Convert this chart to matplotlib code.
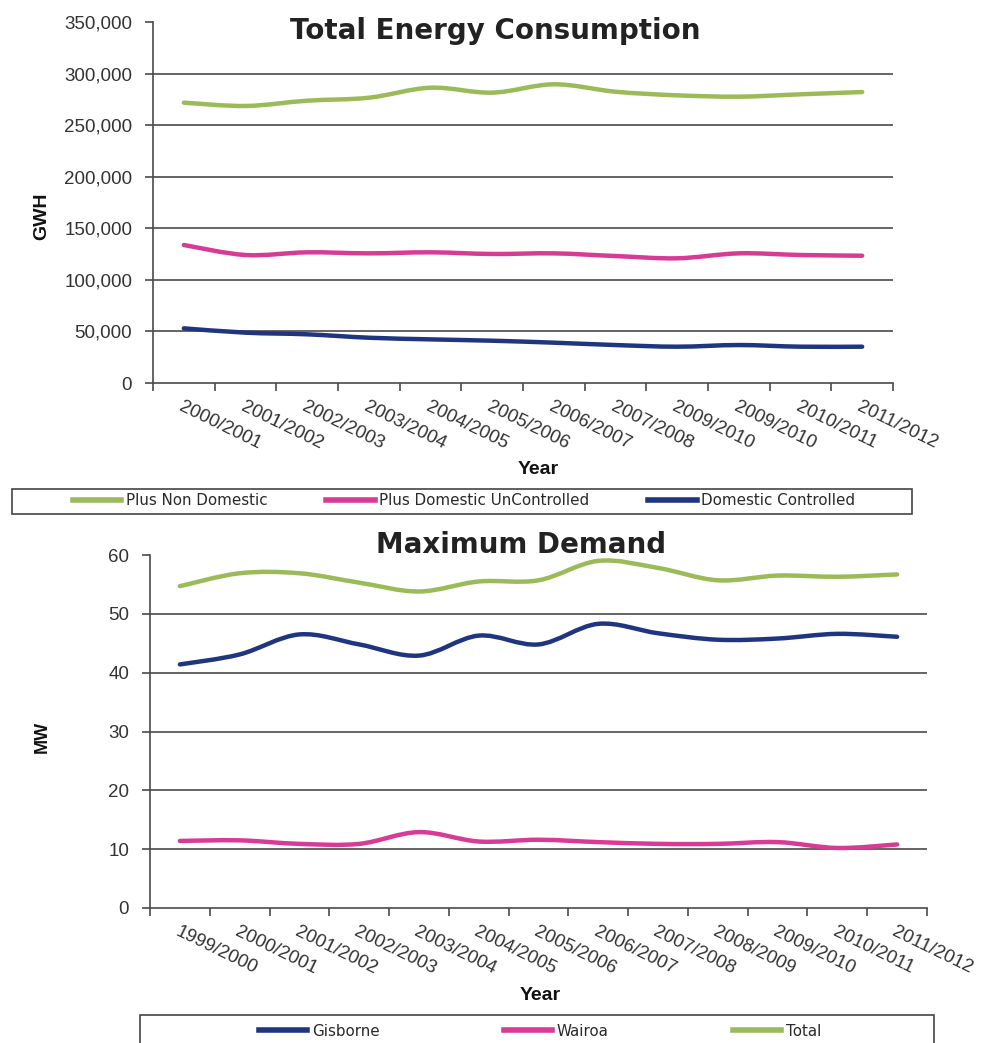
import numpy as np
import matplotlib
matplotlib.use('Agg')
import matplotlib.pyplot as plt
from matplotlib import ticker
from matplotlib.path import Path
from matplotlib.patches import PathPatch, Rectangle
from matplotlib.lines import Line2D

# ---- data ----
energy_years = ['2000/2001', '2001/2002', '2002/2003', '2003/2004', '2004/2005',
                '2005/2006', '2006/2007', '2007/2008', '2009/2010', '2009/2010',
                '2010/2011', '2011/2012']
non_domestic = [271800, 268600, 273700, 276600, 286300, 281500,
                289600, 282400, 278900, 277600, 279900, 282100]
dom_uncontrolled = [133800, 124100, 126700, 125700, 126700, 125100,
                    125700, 123100, 120900, 125700, 124100, 123400]
dom_controlled = [53000, 48800, 47200, 43900, 42300, 41000,
                  39100, 36800, 35200, 36800, 35200, 35200]
energy_ticks = [0, 50000, 100000, 150000, 200000, 250000, 300000, 350000]

demand_years = ['1999/2000', '2000/2001', '2001/2002', '2002/2003', '2003/2004',
                '2004/2005', '2005/2006', '2006/2007', '2007/2008', '2008/2009',
                '2009/2010', '2010/2011', '2011/2012']
gisborne = [41.4, 43.1, 46.5, 44.8, 42.9, 46.3, 44.8, 48.3, 46.7, 45.6, 45.8, 46.6, 46.1]
wairoa = [11.4, 11.5, 10.9, 10.9, 12.9, 11.3, 11.6, 11.2, 10.9, 10.9, 11.2, 10.2, 10.8]
total = [54.7, 56.9, 56.9, 55.3, 53.8, 55.5, 55.7, 59.0, 57.8, 55.7, 56.5, 56.3, 56.7]
demand_ticks = [0, 10, 20, 30, 40, 50, 60]

green = '#9bbb59'
pink = '#d93a95'
navy = '#1f3580'
grid_c = '#4a4a4a'
label_c = '#333333'

W, H = 983, 1043
fig = plt.figure(figsize=(W / 100, H / 100), dpi=100)
fig.patch.set_facecolor('white')


def smooth_line(ax, ys, color):
    # excel style smoothed line: bezier through the points
    pts = np.column_stack([np.arange(len(ys)), ys]).astype(float)
    n = len(pts)
    verts = [pts[0]]
    codes = [Path.MOVETO]
    for i in range(n - 1):
        p0 = pts[max(i - 1, 0)]
        p1, p2 = pts[i], pts[i + 1]
        p3 = pts[min(i + 2, n - 1)]
        verts += [p1 + (p2 - p0) / 6, p2 - (p3 - p1) / 6, p2]
        codes += [Path.CURVE4] * 3
    ax.add_patch(PathPatch(Path(verts, codes), fill=False, edgecolor=color,
                           lw=3.2, capstyle='round', joinstyle='round', zorder=3))


def style_axes(ax, cats, yticks, fmt):
    n = len(cats)
    ax.set_xlim(-0.5, n - 0.5)
    ax.set_ylim(yticks[0], yticks[-1])
    ax.set_yticks(yticks)
    ax.yaxis.set_major_formatter(ticker.FuncFormatter(fmt))
    ax.set_xticks(np.arange(n + 1) - 0.5)
    ax.set_xticklabels([])
    ax.set_xticks(np.arange(n), minor=True)
    ax.set_xticklabels(cats, minor=True, rotation=-26, ha='left', va='top',
                       rotation_mode='anchor', fontsize=13.5, color=label_c,
                       family='Liberation Sans')
    ax.tick_params(axis='x', which='minor', length=0, pad=11)
    ax.tick_params(axis='x', which='major', length=6, width=1.2, color=grid_c)
    ax.tick_params(axis='y', length=6, width=1.2, color=grid_c, pad=9,
                   labelsize=13.5, labelcolor=label_c)
    for lab in ax.get_yticklabels():
        lab.set_family('Liberation Sans')
    for v in yticks[1:-1]:
        ax.axhline(v, color=grid_c, lw=1.2, zorder=1)
    ax.spines['top'].set_visible(False)
    ax.spines['right'].set_visible(False)
    for s in ('left', 'bottom'):
        ax.spines[s].set_color(grid_c)
        ax.spines[s].set_linewidth(1.2)


# ---- top chart ----
ax1 = fig.add_axes([153 / W, 1 - 383 / H, 740 / W, 361 / H])
style_axes(ax1, energy_years, energy_ticks, lambda v, p: f'{v:,.0f}')
smooth_line(ax1, non_domestic, green)
smooth_line(ax1, dom_uncontrolled, pink)
smooth_line(ax1, dom_controlled, navy)

fig.text(495 / W, 1 - 31 / H, 'Total Energy Consumption', ha='center', va='center',
         fontsize=20, fontweight='bold', color='#222222', family='DejaVu Sans')
fig.text(42 / W, 1 - 216 / H, 'GWH', rotation=90, ha='center', va='center',
         fontsize=14, fontweight='bold', color='#111111', family='Liberation Sans')
fig.text(538 / W, 1 - 470 / H, 'Year', ha='center', va='center',
         fontsize=14, fontweight='bold', color='#111111', family='Liberation Sans')

h1 = [Line2D([], [], color=c, lw=4) for c in (green, pink, navy)]
fig.legend(h1, ['Plus Non Domestic', 'Plus Domestic UnControlled', 'Domestic Controlled'],
           loc='center', bbox_to_anchor=(464 / W, 1 - 501 / H), ncol=3, frameon=False,
           prop={'family': 'DejaVu Sans', 'size': 10.9}, handlelength=3.2,
           handletextpad=0.3, columnspacing=3.9, labelcolor='#2a2a2a')
fig.patches.append(Rectangle((12 / W, 1 - 514 / H), 900 / W, 25 / H, fill=False,
                             edgecolor='#444444', lw=1.2, transform=fig.transFigure))

# ---- bottom chart ----
ax2 = fig.add_axes([150 / W, 1 - 908 / H, 777 / W, 353 / H])
style_axes(ax2, demand_years, demand_ticks, lambda v, p: f'{v:.0f}')
smooth_line(ax2, total, green)
smooth_line(ax2, gisborne, navy)
smooth_line(ax2, wairoa, pink)

fig.text(521 / W, 1 - 545 / H, 'Maximum Demand', ha='center', va='center',
         fontsize=20, fontweight='bold', color='#222222', family='DejaVu Sans')
fig.text(42 / W, 1 - 737 / H, 'MW', rotation=90, ha='center', va='center',
         fontsize=13, fontweight='bold', color='#111111', family='Liberation Sans')
fig.text(540 / W, 1 - 995 / H, 'Year', ha='center', va='center',
         fontsize=14, fontweight='bold', color='#111111', family='Liberation Sans')

h2 = [Line2D([], [], color=c, lw=4) for c in (navy, pink, green)]
fig.legend(h2, ['Gisborne', 'Wairoa', 'Total'],
           loc='center', bbox_to_anchor=(540 / W, 1 - 1031 / H), ncol=3, frameon=False,
           prop={'family': 'DejaVu Sans', 'size': 10.9}, handlelength=3.2,
           handletextpad=0.3, columnspacing=8.2, labelcolor='#2a2a2a')
fig.patches.append(Rectangle((140 / W, -10 / H), 794 / W, 38 / H, fill=False,
                             edgecolor='#444444', lw=1.2, transform=fig.transFigure))

fig.savefig('out.png', dpi=100, facecolor='white')
